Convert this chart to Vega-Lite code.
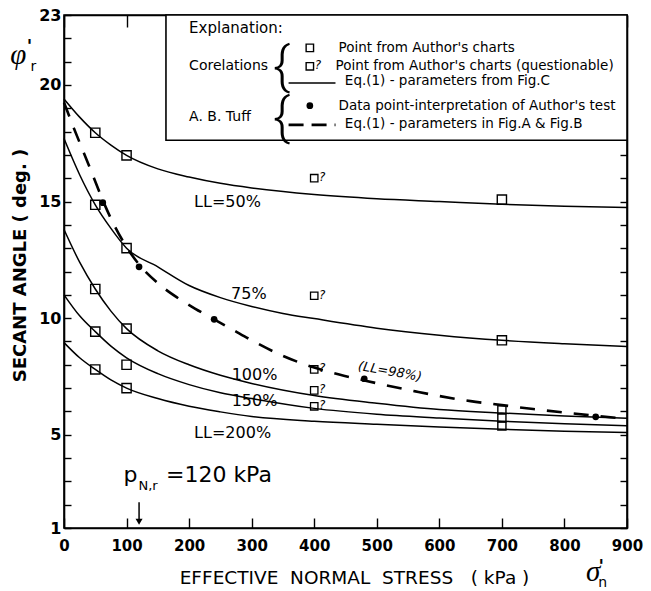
{
  "$schema": "https://vega.github.io/schema/vega-lite/v6.json",
  "width": 563,
  "height": 513,
  "autosize": {"type": "none"},
  "padding": {"left": 64, "top": 15, "right": 24, "bottom": 63},
  "background": "white",
  "config": {
    "view": {"stroke": "black", "strokeWidth": 1.6},
    "axis": {"grid": false, "domainColor": "black", "domainWidth": 1.6, "tickColor": "black", "tickWidth": 1.4, "labelColor": "black", "titleColor": "black", "labelOverlap": false, "labelFlush": false}
  },
  "datasets": {
    "curves": [
      {"LL": "50", "x": 0, "y": 19.4}, {"LL": "50", "x": 25, "y": 18.62}, {"LL": "50", "x": 50, "y": 17.95}, {"LL": "50", "x": 75, "y": 17.42}, {"LL": "50", "x": 100, "y": 16.98}, {"LL": "50", "x": 150, "y": 16.4}, {"LL": "50", "x": 200, "y": 16.05}, {"LL": "50", "x": 250, "y": 15.78}, {"LL": "50", "x": 300, "y": 15.58}, {"LL": "50", "x": 400, "y": 15.3}, {"LL": "50", "x": 500, "y": 15.12}, {"LL": "50", "x": 600, "y": 15.0}, {"LL": "50", "x": 700, "y": 14.88}, {"LL": "50", "x": 800, "y": 14.8}, {"LL": "50", "x": 900, "y": 14.74},
      {"LL": "75", "x": 0, "y": 17.7}, {"LL": "75", "x": 25, "y": 16.15}, {"LL": "75", "x": 50, "y": 14.86}, {"LL": "75", "x": 75, "y": 13.85}, {"LL": "75", "x": 100, "y": 13.0}, {"LL": "75", "x": 150, "y": 12.2}, {"LL": "75", "x": 200, "y": 11.4}, {"LL": "75", "x": 250, "y": 10.88}, {"LL": "75", "x": 300, "y": 10.5}, {"LL": "75", "x": 350, "y": 10.2}, {"LL": "75", "x": 400, "y": 9.98}, {"LL": "75", "x": 500, "y": 9.57}, {"LL": "75", "x": 600, "y": 9.27}, {"LL": "75", "x": 700, "y": 9.05}, {"LL": "75", "x": 800, "y": 8.9}, {"LL": "75", "x": 900, "y": 8.78},
      {"LL": "100", "x": 0, "y": 13.8}, {"LL": "100", "x": 25, "y": 12.4}, {"LL": "100", "x": 50, "y": 11.25}, {"LL": "100", "x": 75, "y": 10.3}, {"LL": "100", "x": 100, "y": 9.55}, {"LL": "100", "x": 150, "y": 8.6}, {"LL": "100", "x": 200, "y": 8.0}, {"LL": "100", "x": 250, "y": 7.55}, {"LL": "100", "x": 300, "y": 7.2}, {"LL": "100", "x": 400, "y": 6.68}, {"LL": "100", "x": 500, "y": 6.35}, {"LL": "100", "x": 600, "y": 6.08}, {"LL": "100", "x": 700, "y": 5.93}, {"LL": "100", "x": 800, "y": 5.8}, {"LL": "100", "x": 900, "y": 5.71},
      {"LL": "150", "x": 0, "y": 11.0}, {"LL": "150", "x": 25, "y": 10.1}, {"LL": "150", "x": 50, "y": 9.42}, {"LL": "150", "x": 75, "y": 8.8}, {"LL": "150", "x": 100, "y": 8.3}, {"LL": "150", "x": 150, "y": 7.62}, {"LL": "150", "x": 200, "y": 7.15}, {"LL": "150", "x": 250, "y": 6.8}, {"LL": "150", "x": 300, "y": 6.55}, {"LL": "150", "x": 400, "y": 6.13}, {"LL": "150", "x": 500, "y": 5.88}, {"LL": "150", "x": 600, "y": 5.72}, {"LL": "150", "x": 700, "y": 5.58}, {"LL": "150", "x": 800, "y": 5.47}, {"LL": "150", "x": 900, "y": 5.39},
      {"LL": "200", "x": 0, "y": 8.95}, {"LL": "200", "x": 25, "y": 8.3}, {"LL": "200", "x": 50, "y": 7.8}, {"LL": "200", "x": 75, "y": 7.35}, {"LL": "200", "x": 100, "y": 7.0}, {"LL": "200", "x": 150, "y": 6.55}, {"LL": "200", "x": 200, "y": 6.22}, {"LL": "200", "x": 250, "y": 5.98}, {"LL": "200", "x": 300, "y": 5.78}, {"LL": "200", "x": 400, "y": 5.58}, {"LL": "200", "x": 500, "y": 5.45}, {"LL": "200", "x": 600, "y": 5.33}, {"LL": "200", "x": 700, "y": 5.23}, {"LL": "200", "x": 800, "y": 5.15}, {"LL": "200", "x": 900, "y": 5.09}
    ],
    "tuff": [
      {"x": 0, "y": 19.25}, {"x": 15, "y": 18.2}, {"x": 30, "y": 17.2}, {"x": 45, "y": 16.2}, {"x": 62, "y": 15.05}, {"x": 80, "y": 14.0}, {"x": 100, "y": 13.05}, {"x": 120, "y": 12.3}, {"x": 150, "y": 11.5}, {"x": 180, "y": 10.9}, {"x": 210, "y": 10.4}, {"x": 240, "y": 9.95}, {"x": 270, "y": 9.5}, {"x": 300, "y": 9.05}, {"x": 350, "y": 8.38}, {"x": 400, "y": 7.88}, {"x": 440, "y": 7.58}, {"x": 480, "y": 7.33}, {"x": 520, "y": 7.09}, {"x": 560, "y": 6.87}, {"x": 600, "y": 6.66}, {"x": 650, "y": 6.44}, {"x": 700, "y": 6.27}, {"x": 750, "y": 6.1}, {"x": 800, "y": 5.95}, {"x": 850, "y": 5.81}, {"x": 890, "y": 5.71}
    ],
    "squares": [
      {"x": 50, "y": 17.95}, {"x": 100, "y": 16.98}, {"x": 700, "y": 15.08},
      {"x": 50, "y": 14.86}, {"x": 100, "y": 13.0}, {"x": 700, "y": 9.05},
      {"x": 50, "y": 11.25}, {"x": 100, "y": 9.55},
      {"x": 50, "y": 9.42}, {"x": 100, "y": 8.0},
      {"x": 50, "y": 7.8}, {"x": 100, "y": 7.0}
    ],
    "stack": [{"x": 700, "y": 6.07}, {"x": 700, "y": 5.72}, {"x": 700, "y": 5.38}],
    "questionable": [{"x": 400, "y": 16.0}, {"x": 400, "y": 10.96}, {"x": 400, "y": 7.8}, {"x": 400, "y": 6.9}, {"x": 400, "y": 6.22}],
    "dots": [{"x": 62, "y": 14.95}, {"x": 120, "y": 12.2}, {"x": 240, "y": 9.95}, {"x": 480, "y": 7.4}, {"x": 850, "y": 5.77}],
    "curveLabels": [
      {"x": 208, "y": 15.0, "t": "LL=50%"}, {"x": 267, "y": 11.05, "t": "75%"}, {"x": 268, "y": 7.58, "t": "100%"}, {"x": 268, "y": 6.44, "t": "150%"}, {"x": 208, "y": 5.09, "t": "LL=200%"}
    ],
    "ll98": [{"x": 521, "y": 7.71, "t": "(LL=98%)"}],
    "pBig": [{"x": 95, "y": 2.98, "t": "p"}, {"x": 163, "y": 2.98, "t": "=120 kPa"}],
    "pSub": [{"x": 119, "y": 2.64, "t": "N,r"}],
    "arrow": [{"x": 120, "y": 2.1, "y2": 1.35}],
    "arrowHead": [{"x": 120, "y": 1.27}],
    "greekBig": [{"x": -73, "y": 20.88, "t": "φ"}, {"x": 846, "y": -1.29, "t": "σ"}],
    "primes": [{"x": -55, "y": 21.63, "t": "'"}, {"x": 859, "y": -0.67, "t": "'"}],
    "greekSub": [{"x": -49, "y": 20.78, "t": "r"}, {"x": 861, "y": -1.38, "t": "n"}],
    "box": [{"x": 163, "x2": 900, "y": 17.63, "y2": 23}],
    "legHead": [{"x": 200, "y": 22.46, "t": "Explanation:"}],
    "legGroups": [{"x": 200, "y": 20.8, "t": "Corelations"}, {"x": 200, "y": 18.61, "t": "A. B. Tuff"}],
    "braces": [{"x": 348, "y": 20.07, "t": "{"}, {"x": 348, "y": 17.88, "t": "{"}],
    "legText": [
      {"x": 439, "y": 21.59, "t": "Point from Author's charts"},
      {"x": 434, "y": 20.8, "t": "Point from Author's charts (questionable)"},
      {"x": 449, "y": 20.15, "t": "Eq.(1) - parameters from Fig.C"},
      {"x": 439, "y": 19.11, "t": "Data point-interpretation of Author's test"},
      {"x": 449, "y": 18.33, "t": "Eq.(1) - parameters in Fig.A & Fig.B"}
    ],
    "legSquare": [{"x": 393, "y": 21.59}],
    "legQ": [{"x": 393, "y": 20.8}],
    "legDot": [{"x": 393, "y": 19.11}],
    "legSolid": [{"x": 359, "y": 20.08}, {"x": 434, "y": 20.08}],
    "legDashed": [{"x": 359, "y": 18.29}, {"x": 434, "y": 18.29}]
  },
  "layer": [
    {
      "data": {"name": "curves"},
      "mark": {"type": "line", "color": "black", "strokeWidth": 1.5, "interpolate": "monotone"},
      "encoding": {
        "x": {"field": "x", "type": "quantitative", "scale": {"domain": [0, 900], "nice": false, "zero": false},
          "axis": {"orient": "bottom", "values": [0, 100, 200, 300, 400, 500, 600, 700, 800, 900], "tickSize": -10, "labelPadding": 20, "labelFont": "DejaVu Sans", "labelFontWeight": "bold", "labelFontSize": 15, "format": "d",
            "title": "EFFECTIVE\u00a0\u00a0NORMAL\u00a0\u00a0STRESS\u00a0\u00a0\u00a0(\u00a0kPa\u00a0)", "titleFont": "DejaVu Sans", "titleFontSize": 18.5, "titleFontWeight": "normal", "titleX": 290, "titleY": 49, "titleAlign": "center", "titleBaseline": "middle"}},
        "y": {"field": "y", "type": "quantitative", "scale": {"domain": [1, 23], "nice": false, "zero": false},
          "axis": {"orient": "left", "values": [1, 2, 3, 4, 5, 6, 7, 8, 9, 10, 11, 12, 13, 14, 15, 16, 17, 18, 19, 20, 21, 22, 23], "tickSize": -7, "labelPadding": 10, "labelFont": "DejaVu Sans", "labelFontWeight": "bold", "labelFontSize": 16, "labelExpr": "indexof([1,5,10,15,20,23], datum.value) >= 0 ? datum.label : ''",
            "title": "SECANT ANGLE ( deg. )", "titleFont": "DejaVu Sans", "titleFontSize": 18, "titleFontWeight": "bold", "titleAngle": 270, "titleX": -39, "titleY": 250, "titleAlign": "center", "titleBaseline": "alphabetic"}},
        "detail": {"field": "LL", "type": "nominal"}
      }
    },
    {
      "data": {"name": "tuff"},
      "mark": {"type": "line", "color": "black", "strokeWidth": 2.6, "strokeDash": [15, 12], "interpolate": "monotone"},
      "encoding": {
        "x": {"field": "x", "type": "quantitative", "scale": {"domain": [0, 900], "nice": false, "zero": false},
          "axis": {"orient": "top", "values": [0, 100, 200, 300, 400, 500, 600, 700, 800, 900], "tickSize": -12, "labels": false, "title": null}},
        "y": {"field": "y", "type": "quantitative", "scale": {"domain": [1, 23], "nice": false, "zero": false},
          "axis": {"orient": "right", "values": [1, 2, 3, 4, 5, 6, 7, 8, 9, 10, 11, 12, 13, 14, 15, 16, 17, 18, 19, 20, 21, 22, 23], "tickSize": -7, "labels": false, "title": null}}
      }
    },
    {
      "data": {"name": "squares"},
      "mark": {"type": "point", "shape": "square", "filled": false, "stroke": "black", "strokeWidth": 1.4, "size": 85, "opacity": 1},
      "encoding": {
        "x": {"field": "x", "type": "quantitative", "scale": {"domain": [0, 900], "nice": false, "zero": false}, "axis": null},
        "y": {"field": "y", "type": "quantitative", "scale": {"domain": [1, 23], "nice": false, "zero": false}, "axis": null}
      }
    },
    {
      "data": {"name": "stack"},
      "mark": {"type": "point", "shape": "square", "filled": false, "stroke": "black", "strokeWidth": 1.4, "size": 66, "opacity": 1},
      "encoding": {
        "x": {"field": "x", "type": "quantitative", "scale": {"domain": [0, 900], "nice": false, "zero": false}, "axis": null},
        "y": {"field": "y", "type": "quantitative", "scale": {"domain": [1, 23], "nice": false, "zero": false}, "axis": null}
      }
    },
    {
      "data": {"name": "questionable"},
      "mark": {"type": "point", "shape": "square", "filled": false, "stroke": "black", "strokeWidth": 1.3, "size": 55, "opacity": 1},
      "encoding": {
        "x": {"field": "x", "type": "quantitative", "scale": {"domain": [0, 900], "nice": false, "zero": false}, "axis": null},
        "y": {"field": "y", "type": "quantitative", "scale": {"domain": [1, 23], "nice": false, "zero": false}, "axis": null}
      }
    },
    {
      "data": {"name": "questionable"},
      "mark": {"type": "text", "text": "?", "font": "DejaVu Sans", "fontSize": 12, "fontStyle": "italic", "align": "center", "baseline": "middle", "dx": 8, "dy": -1, "color": "black"},
      "encoding": {
        "x": {"field": "x", "type": "quantitative", "scale": {"domain": [0, 900], "nice": false, "zero": false}, "axis": null},
        "y": {"field": "y", "type": "quantitative", "scale": {"domain": [1, 23], "nice": false, "zero": false}, "axis": null}
      }
    },
    {
      "data": {"name": "dots"},
      "mark": {"type": "point", "shape": "circle", "filled": true, "color": "black", "size": 45, "opacity": 1},
      "encoding": {
        "x": {"field": "x", "type": "quantitative", "scale": {"domain": [0, 900], "nice": false, "zero": false}, "axis": null},
        "y": {"field": "y", "type": "quantitative", "scale": {"domain": [1, 23], "nice": false, "zero": false}, "axis": null}
      }
    },
    {
      "data": {"name": "curveLabels"},
      "mark": {"type": "text", "font": "DejaVu Sans", "fontSize": 16, "align": "left", "baseline": "middle", "color": "black"},
      "encoding": {
        "x": {"field": "x", "type": "quantitative", "scale": {"domain": [0, 900], "nice": false, "zero": false}, "axis": null},
        "y": {"field": "y", "type": "quantitative", "scale": {"domain": [1, 23], "nice": false, "zero": false}, "axis": null},
        "text": {"field": "t"}
      }
    },
    {
      "data": {"name": "ll98"},
      "mark": {"type": "text", "font": "DejaVu Sans", "fontSize": 13, "fontStyle": "italic", "align": "center", "baseline": "middle", "angle": 10, "color": "black"},
      "encoding": {
        "x": {"field": "x", "type": "quantitative", "scale": {"domain": [0, 900], "nice": false, "zero": false}, "axis": null},
        "y": {"field": "y", "type": "quantitative", "scale": {"domain": [1, 23], "nice": false, "zero": false}, "axis": null},
        "text": {"field": "t"}
      }
    },
    {
      "data": {"name": "pBig"},
      "mark": {"type": "text", "font": "DejaVu Sans", "fontSize": 22, "align": "left", "baseline": "alphabetic", "color": "black"},
      "encoding": {
        "x": {"field": "x", "type": "quantitative", "scale": {"domain": [0, 900], "nice": false, "zero": false}, "axis": null},
        "y": {"field": "y", "type": "quantitative", "scale": {"domain": [1, 23], "nice": false, "zero": false}, "axis": null},
        "text": {"field": "t"}
      }
    },
    {
      "data": {"name": "pSub"},
      "mark": {"type": "text", "font": "DejaVu Sans", "fontSize": 13, "align": "left", "baseline": "alphabetic", "color": "black"},
      "encoding": {
        "x": {"field": "x", "type": "quantitative", "scale": {"domain": [0, 900], "nice": false, "zero": false}, "axis": null},
        "y": {"field": "y", "type": "quantitative", "scale": {"domain": [1, 23], "nice": false, "zero": false}, "axis": null},
        "text": {"field": "t"}
      }
    },
    {
      "data": {"name": "arrow"},
      "mark": {"type": "rule", "color": "black", "strokeWidth": 1.5},
      "encoding": {
        "x": {"field": "x", "type": "quantitative", "scale": {"domain": [0, 900], "nice": false, "zero": false}, "axis": null},
        "y": {"field": "y", "type": "quantitative", "scale": {"domain": [1, 23], "nice": false, "zero": false}, "axis": null},
        "y2": {"field": "y2"}
      }
    },
    {
      "data": {"name": "arrowHead"},
      "mark": {"type": "point", "shape": "triangle-down", "filled": true, "color": "black", "size": 50, "opacity": 1},
      "encoding": {
        "x": {"field": "x", "type": "quantitative", "scale": {"domain": [0, 900], "nice": false, "zero": false}, "axis": null},
        "y": {"field": "y", "type": "quantitative", "scale": {"domain": [1, 23], "nice": false, "zero": false}, "axis": null}
      }
    },
    {
      "data": {"name": "greekBig"},
      "mark": {"type": "text", "font": "Liberation Serif", "fontSize": 29, "fontStyle": "italic", "align": "center", "baseline": "alphabetic", "color": "black"},
      "encoding": {
        "x": {"field": "x", "type": "quantitative", "scale": {"domain": [0, 900], "nice": false, "zero": false}, "axis": null},
        "y": {"field": "y", "type": "quantitative", "scale": {"domain": [1, 23], "nice": false, "zero": false}, "axis": null},
        "text": {"field": "t"}
      }
    },
    {
      "data": {"name": "primes"},
      "mark": {"type": "text", "font": "DejaVu Sans", "fontSize": 18, "fontWeight": "bold", "align": "center", "baseline": "middle", "color": "black"},
      "encoding": {
        "x": {"field": "x", "type": "quantitative", "scale": {"domain": [0, 900], "nice": false, "zero": false}, "axis": null},
        "y": {"field": "y", "type": "quantitative", "scale": {"domain": [1, 23], "nice": false, "zero": false}, "axis": null},
        "text": {"field": "t"}
      }
    },
    {
      "data": {"name": "greekSub"},
      "mark": {"type": "text", "font": "DejaVu Sans", "fontSize": 14, "align": "center", "baseline": "middle", "color": "black"},
      "encoding": {
        "x": {"field": "x", "type": "quantitative", "scale": {"domain": [0, 900], "nice": false, "zero": false}, "axis": null},
        "y": {"field": "y", "type": "quantitative", "scale": {"domain": [1, 23], "nice": false, "zero": false}, "axis": null},
        "text": {"field": "t"}
      }
    },
    {
      "data": {"name": "box"},
      "mark": {"type": "rect", "fill": "white", "stroke": "black", "strokeWidth": 1.6},
      "encoding": {
        "x": {"field": "x", "type": "quantitative", "scale": {"domain": [0, 900], "nice": false, "zero": false}, "axis": null},
        "x2": {"field": "x2"},
        "y": {"field": "y", "type": "quantitative", "scale": {"domain": [1, 23], "nice": false, "zero": false}, "axis": null},
        "y2": {"field": "y2"}
      }
    },
    {
      "data": {"name": "legHead"},
      "mark": {"type": "text", "font": "DejaVu Sans", "fontSize": 15, "align": "left", "baseline": "middle", "color": "black"},
      "encoding": {
        "x": {"field": "x", "type": "quantitative", "scale": {"domain": [0, 900], "nice": false, "zero": false}, "axis": null},
        "y": {"field": "y", "type": "quantitative", "scale": {"domain": [1, 23], "nice": false, "zero": false}, "axis": null},
        "text": {"field": "t"}
      }
    },
    {
      "data": {"name": "legGroups"},
      "mark": {"type": "text", "font": "DejaVu Sans", "fontSize": 14, "align": "left", "baseline": "middle", "color": "black"},
      "encoding": {
        "x": {"field": "x", "type": "quantitative", "scale": {"domain": [0, 900], "nice": false, "zero": false}, "axis": null},
        "y": {"field": "y", "type": "quantitative", "scale": {"domain": [1, 23], "nice": false, "zero": false}, "axis": null},
        "text": {"field": "t"}
      }
    },
    {
      "data": {"name": "braces"},
      "mark": {"type": "text", "font": "Roboto", "fontWeight": 300, "fontSize": 52, "align": "center", "baseline": "alphabetic", "color": "black"},
      "encoding": {
        "x": {"field": "x", "type": "quantitative", "scale": {"domain": [0, 900], "nice": false, "zero": false}, "axis": null},
        "y": {"field": "y", "type": "quantitative", "scale": {"domain": [1, 23], "nice": false, "zero": false}, "axis": null},
        "text": {"field": "t"}
      }
    },
    {
      "data": {"name": "legText"},
      "mark": {"type": "text", "font": "DejaVu Sans", "fontSize": 13.5, "align": "left", "baseline": "middle", "color": "black"},
      "encoding": {
        "x": {"field": "x", "type": "quantitative", "scale": {"domain": [0, 900], "nice": false, "zero": false}, "axis": null},
        "y": {"field": "y", "type": "quantitative", "scale": {"domain": [1, 23], "nice": false, "zero": false}, "axis": null},
        "text": {"field": "t"}
      }
    },
    {
      "data": {"name": "legSquare"},
      "mark": {"type": "point", "shape": "square", "filled": false, "stroke": "black", "strokeWidth": 1.4, "size": 55, "opacity": 1},
      "encoding": {
        "x": {"field": "x", "type": "quantitative", "scale": {"domain": [0, 900], "nice": false, "zero": false}, "axis": null},
        "y": {"field": "y", "type": "quantitative", "scale": {"domain": [1, 23], "nice": false, "zero": false}, "axis": null}
      }
    },
    {
      "data": {"name": "legQ"},
      "mark": {"type": "point", "shape": "square", "filled": false, "stroke": "black", "strokeWidth": 1.4, "size": 55, "opacity": 1},
      "encoding": {
        "x": {"field": "x", "type": "quantitative", "scale": {"domain": [0, 900], "nice": false, "zero": false}, "axis": null},
        "y": {"field": "y", "type": "quantitative", "scale": {"domain": [1, 23], "nice": false, "zero": false}, "axis": null}
      }
    },
    {
      "data": {"name": "legQ"},
      "mark": {"type": "text", "text": "?", "font": "DejaVu Sans", "fontSize": 12, "fontStyle": "italic", "align": "center", "baseline": "middle", "dx": 8, "dy": -1, "color": "black"},
      "encoding": {
        "x": {"field": "x", "type": "quantitative", "scale": {"domain": [0, 900], "nice": false, "zero": false}, "axis": null},
        "y": {"field": "y", "type": "quantitative", "scale": {"domain": [1, 23], "nice": false, "zero": false}, "axis": null}
      }
    },
    {
      "data": {"name": "legDot"},
      "mark": {"type": "point", "shape": "circle", "filled": true, "color": "black", "size": 45, "opacity": 1},
      "encoding": {
        "x": {"field": "x", "type": "quantitative", "scale": {"domain": [0, 900], "nice": false, "zero": false}, "axis": null},
        "y": {"field": "y", "type": "quantitative", "scale": {"domain": [1, 23], "nice": false, "zero": false}, "axis": null}
      }
    },
    {
      "data": {"name": "legSolid"},
      "mark": {"type": "line", "color": "black", "strokeWidth": 1.5},
      "encoding": {
        "x": {"field": "x", "type": "quantitative", "scale": {"domain": [0, 900], "nice": false, "zero": false}, "axis": null},
        "y": {"field": "y", "type": "quantitative", "scale": {"domain": [1, 23], "nice": false, "zero": false}, "axis": null}
      }
    },
    {
      "data": {"name": "legDashed"},
      "mark": {"type": "line", "color": "black", "strokeWidth": 2.6, "strokeDash": [15, 8]},
      "encoding": {
        "x": {"field": "x", "type": "quantitative", "scale": {"domain": [0, 900], "nice": false, "zero": false}, "axis": null},
        "y": {"field": "y", "type": "quantitative", "scale": {"domain": [1, 23], "nice": false, "zero": false}, "axis": null}
      }
    }
  ],
  "resolve": {"axis": {"x": "independent", "y": "independent"}}
}
